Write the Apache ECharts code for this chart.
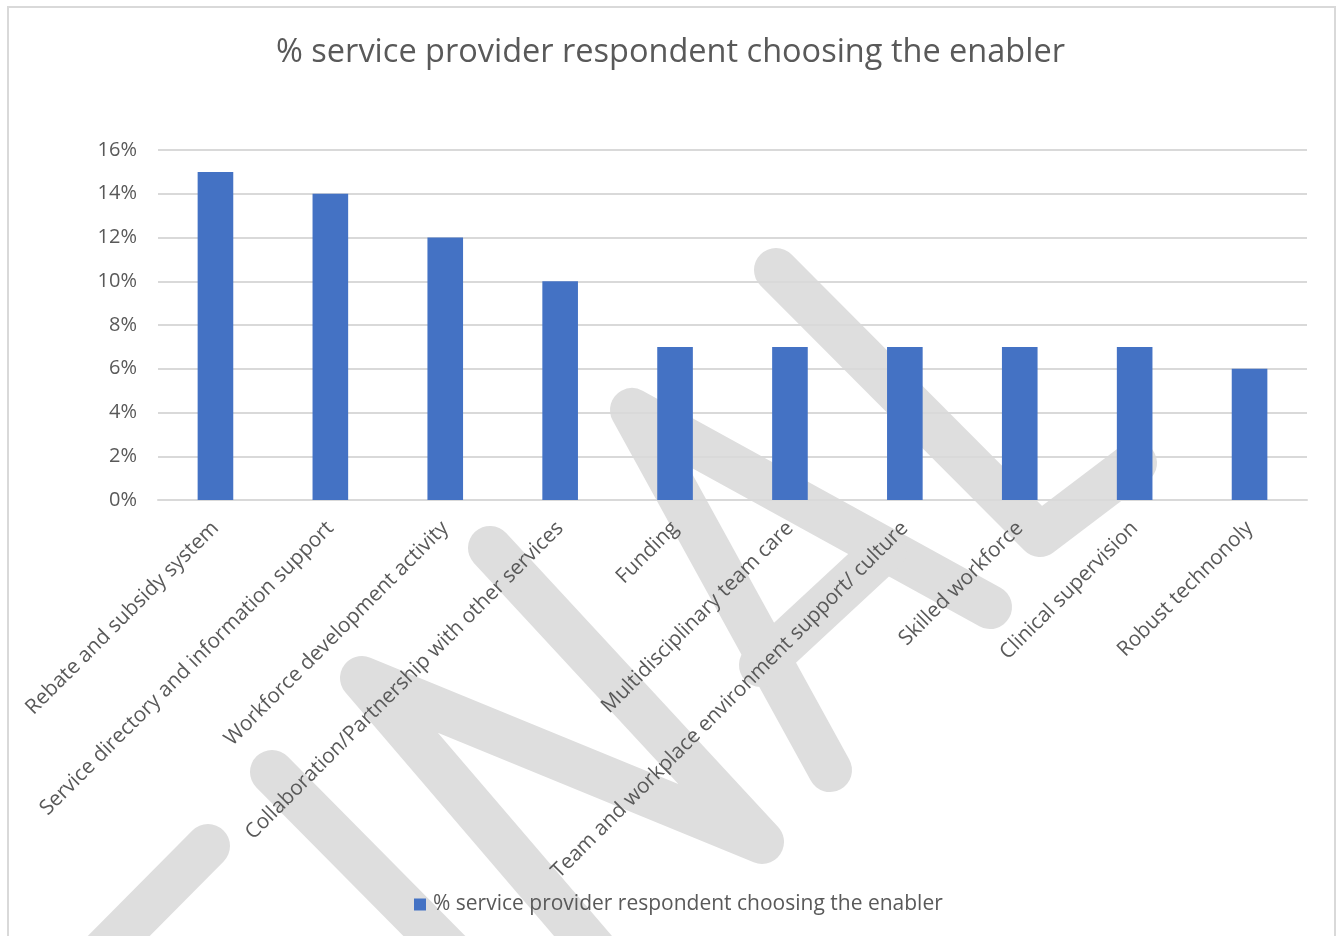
<!DOCTYPE html>
<html>
<head>
<meta charset="utf-8">
<title>% service provider respondent choosing the enabler</title>
<script src="https://cdn.jsdelivr.net/npm/echarts@6/dist/echarts.min.js"></script>
<style>
  html, body { margin: 0; padding: 0; background: #ffffff; }
  #chart { width: 1341px; height: 936px; }
</style>
</head>
<body>
<div id="chart"></div>
<script>
// Enablers named by service provider respondents
const categories = [
  'Rebate and subsidy system',
  'Service directory and information support',
  'Workforce development activity',
  'Collaboration/Partnership with other services',
  'Funding',
  'Multidisciplinary team care',
  'Team and workplace environment support/ culture',
  'Skilled workforce',
  'Clinical supervision',
  'Robust technonoly'
];

// Share of respondents choosing each enabler (%)
const percentChoosing = [15, 14, 12, 10, 7, 7, 7, 7, 7, 6];

// Value axis range and step (%)
const yMin = 0;
const yMax = 16;
const yStep = 2;

const seriesName = '% service provider respondent choosing the enabler';
const chartTitle = '% service provider respondent choosing the enabler';

const textColor = '#595959';
const gridColor = '#d9d9d9';
const barColor = '#4472C4';
const fontFamily = '"Open Sans", "Noto Sans", sans-serif';

// Grey "FINAL" draft stamp laid under the plot, drawn as thick rounded strokes
const stampColor = '#dedede';
const stampWidth = 44;
function stroke(points) {
  return {
    type: 'polyline',
    z: -10,
    silent: true,
    shape: { points: points },
    style: {
      stroke: stampColor,
      lineWidth: stampWidth,
      lineCap: 'round',
      lineJoin: 'round',
      fill: null
    }
  };
}
const stamp = [
  // F
  stroke([[90, 965], [208, 846]]),
  // I
  stroke([[272, 772], [470, 972]]),
  // N
  stroke([[625, 985], [362, 678], [762, 842], [490, 548]]),
  // A
  stroke([[830, 770], [632, 410], [990, 607]]),
  stroke([[761, 665], [885, 550]]),
  // L
  stroke([[776, 270], [1040, 535], [1135, 463]])
];

const chart = echarts.init(document.getElementById('chart'), null, { renderer: 'canvas' });

chart.setOption({
  backgroundColor: '#ffffff',
  animation: false,
  textStyle: { fontFamily: fontFamily },
  title: {
    text: chartTitle,
    left: 'center',
    top: 31,
    textStyle: {
      fontFamily: fontFamily,
      fontSize: 32.5,
      fontWeight: 'normal',
      color: textColor
    }
  },
  legend: {
    data: [seriesName],
    bottom: 16,
    left: 409,
    icon: 'rect',
    itemWidth: 12,
    itemHeight: 12,
    itemGap: 6,
    textStyle: {
      fontFamily: fontFamily,
      fontSize: 21,
      color: textColor,
      padding: [0, 0, 0, 2]
    }
  },
  grid: {
    left: 158,
    right: 34,
    top: 150,
    bottom: 436,
    containLabel: false
  },
  xAxis: {
    type: 'category',
    data: categories,
    boundaryGap: true,
    axisLine: { show: true, lineStyle: { color: gridColor, width: 2 } },
    axisTick: { show: false },
    axisLabel: {
      interval: 0,
      rotate: 45,
      margin: 25,
      fontFamily: fontFamily,
      fontSize: 20.8,
      color: textColor
    }
  },
  yAxis: {
    type: 'value',
    min: yMin,
    max: yMax,
    interval: yStep,
    axisLine: { show: false },
    axisTick: { show: false },
    splitLine: { lineStyle: { color: gridColor, width: 2 } },
    axisLabel: {
      margin: 21,
      fontFamily: fontFamily,
      fontSize: 20,
      color: textColor,
      formatter: '{value}%'
    }
  },
  series: [{
    name: seriesName,
    type: 'bar',
    data: percentChoosing,
    barWidth: '31%',
    itemStyle: { color: barColor }
  }],
  graphic: [
    ...stamp,
    {
      type: 'rect',
      z: 100,
      silent: true,
      shape: { x: 8, y: 7, width: 1327, height: 945 },
      style: { fill: null, stroke: gridColor, lineWidth: 2 }
    }
  ]
});
</script>
</body>
</html>
